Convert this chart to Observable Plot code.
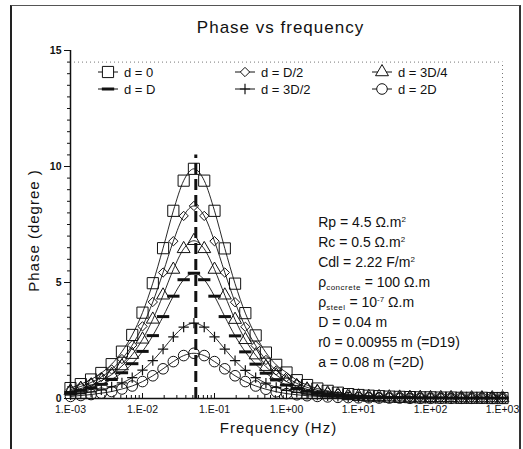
<!DOCTYPE html>
<html><head><meta charset="utf-8">
<script src="https://cdn.jsdelivr.net/npm/d3@7"></script>
<script src="https://cdn.jsdelivr.net/npm/@observablehq/plot@0.6"></script>
<style>
body{margin:0;background:#fff;}
#wrap{position:relative;width:523px;height:449px;overflow:hidden;background:#fff;}
#frame{position:absolute;left:10px;top:5px;width:511px;height:450px;border-left:2px solid #222;border-top:1px solid #555;border-right:2px solid #333;box-sizing:border-box;pointer-events:none;}
svg{display:block;}
</style></head><body><div id="wrap"><div id="frame"></div></div>
<script>
const frequency = [0.001,0.00139,0.00193,0.00268,0.00373,0.00518,0.0072,0.01,0.0139,0.0193,0.0268,0.0373,0.0518,0.072,0.1,0.139,0.193,0.268,0.373,0.518,0.72,1,1.39,1.93,2.68,3.73,5.18,7.2,10,13.9,19.3,26.8,37.3,51.8,72,100,139,193,268,373,518,720,1000];
const phaseD0 = [0.45,0.62,0.82,1.10,1.48,2.02,2.74,3.70,4.97,6.48,8.09,9.39,9.90,9.39,8.09,6.47,4.95,3.68,2.72,1.98,1.45,1.12,0.79,0.58,0.43,0.33,0.25,0.19,0.15,0.12,0.10,0.08,0.07,0.06,0.05,0.05,0.04,0.04,0.03,0.03,0.03,0.02,0.02];
const phaseDhalf = [0.38,0.52,0.69,0.93,1.25,1.70,2.30,3.11,4.16,5.43,6.78,7.87,8.30,7.87,6.78,5.43,4.15,3.09,2.28,1.66,1.21,0.92,0.65,0.48,0.36,0.27,0.21,0.16,0.12,0.10,0.08,0.07,0.06,0.05,0.05,0.04,0.04,0.03,0.03,0.03,0.02,0.02,0.02];
const phaseD3q = [0.32,0.43,0.57,0.77,1.03,1.40,1.89,2.55,3.41,4.45,5.56,6.45,6.80,6.45,5.56,4.45,3.40,2.53,1.87,1.37,1.01,0.73,0.54,0.40,0.30,0.23,0.17,0.13,0.10,0.08,0.07,0.06,0.05,0.04,0.04,0.03,0.03,0.03,0.02,0.02,0.02,0.02,0.02];
const phaseD1 = [0.26,0.35,0.46,0.61,0.82,1.11,1.50,2.03,2.71,3.53,4.41,5.12,5.40,5.12,4.41,3.53,2.70,2.01,1.48,1.09,0.80,0.58,0.43,0.32,0.24,0.18,0.14,0.11,0.08,0.07,0.06,0.05,0.04,0.04,0.03,0.03,0.03,0.02,0.02,0.02,0.02,0.02,0.02];
const phaseD3h = [0.16,0.21,0.28,0.37,0.50,0.67,0.90,1.22,1.63,2.13,2.66,3.08,3.25,3.08,2.66,2.13,1.63,1.21,0.90,0.66,0.48,0.35,0.26,0.19,0.15,0.11,0.09,0.07,0.05,0.04,0.04,0.03,0.03,0.02,0.02,0.02,0.02,0.01,0.01,0.01,0.01,0.01,0.01];
const phaseD2 = [0.09,0.13,0.17,0.23,0.30,0.41,0.54,0.73,0.98,1.28,1.59,1.85,1.95,1.85,1.59,1.28,0.98,0.73,0.54,0.40,0.29,0.21,0.16,0.12,0.09,0.07,0.05,0.04,0.03,0.03,0.02,0.02,0.02,0.01,0.01,0.01,0.01,0.01,0.01,0.01,0.01,0.01,0.01];
const seriesNames = ["d = 0","d = D/2","d = 3D/4","d = D","d = 3D/2","d = 2D"];
const seriesValues = [phaseD0, phaseDhalf, phaseD3q, phaseD1, phaseD3h, phaseD2];
const xTickValues = [0.001,0.01,0.1,1,10,100,1000];
const xTickLabels = ["1.E-03","1.E-02","1.E-01","1.E+00","1.E+01","1.E+02","1.E+03"];
const yTickValues = [0,5,10,15];
const peakFrequency = [0.055];
const peakLineTop = 10.5;
const titleText = "Phase vs frequency";
const xLabel = "Frequency (Hz)";
const yLabel = "Phase (degree )";
const annotationLines = [
  [{t:"Rp = 4.5 Ω.m"},{t:"2",sup:true}],
  [{t:"Rc = 0.5 Ω.m"},{t:"2",sup:true}],
  [{t:"Cdl = 2.22 F/m"},{t:"2",sup:true}],
  [{t:"ρ"},{t:"concrete",sub:true},{t:" = 100 Ω.m"}],
  [{t:"ρ"},{t:"steel",sub:true},{t:" = 10"},{t:"-7",sup:true},{t:" Ω.m"}],
  [{t:"D = 0.04 m"}],
  [{t:"r0 = 0.00955 m (=D19)"}],
  [{t:"a = 0.08 m (=2D)"}]
];
const annotationAnchor = {f: 2.8, phase: 7.35};

const dash = {draw(ctx, size){const w = Math.sqrt(size)*0.58; ctx.moveTo(-w,0); ctx.lineTo(w,0);}};
const styles = [
  {symbol:"square", r:6.3, sw:1, d3t:d3.symbolSquare},
  {symbol:"diamond2", r:4.2, sw:1, d3t:d3.symbolDiamond2},
  {symbol:"triangle", r:4.8, sw:1, d3t:d3.symbolTriangle},
  {symbol:dash, r:6, sw:3, d3t:dash},
  {symbol:"plus", r:3.4, sw:1.2, d3t:d3.symbolPlus},
  {symbol:"circle", r:5.3, sw:1, d3t:d3.symbolCircle}
];

const rows = seriesNames.map((name, s) => frequency.map((f, i) => ({f, v: seriesValues[s][i], s: name})));
const xMinor = [];
for (let e = -3; e < 3; e++) for (let k = 2; k <= 9; k++) xMinor.push(k * Math.pow(10, e));
const yMinor = d3.range(0, 15.01, 0.5).filter(v => v % 5 !== 0);

const font = "'Liberation Sans', Arial, Helvetica, sans-serif";
const marks = [
  Plot.ruleY([14.5], {stroke:"#777", strokeDasharray:"1,3"}),
  Plot.ruleX([1000], {y1:0, y2:14.5, stroke:"#777", strokeDasharray:"1,3"}),
  Plot.ruleX([0.001], {y1:0, y2:15, stroke:"#111", strokeWidth:1.5}),
  Plot.ruleY([0], {stroke:"#111", strokeWidth:1.5}),
  Plot.axisX({ticks:xTickValues, tickFormat:d => xTickLabels[xTickValues.indexOf(d)], tickSize:0, tickPadding:7, fontSize:10.5, label:null}),
  Plot.axisX({ticks:xTickValues, tickSize:-5, tickFormat:()=>"", label:null}),
  Plot.axisX({ticks:xMinor, tickSize:-3, tickFormat:()=>"", label:null}),
  Plot.axisY({ticks:yTickValues, tickSize:6, tickPadding:3, fontSize:10.5, fontWeight:"bold", label:null}),
  Plot.axisY({ticks:yMinor, tickSize:3, tickFormat:()=>"", label:null}),
  Plot.ruleX(peakFrequency, {y1:0, y2:peakLineTop, stroke:"#111", strokeWidth:3, strokeDasharray:"11,5"}),
];
rows.forEach((data, s) => {
  marks.push(Plot.line(data, {x:"f", y:"v", stroke:"#111", strokeWidth:0.9, curve:"monotone-x"}));
  marks.push(Plot.dot(data, {x:"f", y:"v", symbol:styles[s].symbol, r:styles[s].r, stroke:"#111", strokeWidth:styles[s].sw, fill:"none"}));
});
marks.push(Plot.text([titleText], {frameAnchor:"top", lineAnchor:"middle", textAnchor:"middle", dy:-23, dx:-6, fontSize:17, fill:"#111", fontFamily:font}));
marks.push(Plot.text([xLabel], {frameAnchor:"bottom", lineAnchor:"middle", textAnchor:"middle", dy:30, dx:-8, fontSize:15, fill:"#111", fontFamily:font}));
marks.push(Plot.text([yLabel], {frameAnchor:"left", lineAnchor:"middle", textAnchor:"middle", rotate:-90, dx:-36, dy:6, fontSize:15, fill:"#111", fontFamily:font}));

const plot = Plot.plot({
  width:523, height:449,
  marginLeft:70, marginRight:21, marginTop:50, marginBottom:51,
  style:{fontFamily:font, color:"#111", background:"transparent", overflow:"visible"},
  x:{type:"log", domain:[0.001,1000]},
  y:{domain:[0,15]},
  marks
});
document.getElementById("wrap").prepend(plot);

const svg = d3.select(plot);
const xs = plot.scale("x"), ys = plot.scale("y");
svg.selectAll("text").filter(function(){return [titleText,xLabel,yLabel].includes(this.textContent);}).attr("letter-spacing","1");

// legend
const legendColumnX = [108, 245, 382];
const legendRowY = [72, 89];
const lg = svg.append("g").attr("fill","none").attr("stroke","#111");
seriesNames.forEach((name, s) => {
  const cx = legendColumnX[s % 3], cy = legendRowY[Math.floor(s / 3)];
  lg.append("line").attr("x1", cx - 10).attr("x2", cx + 10).attr("y1", cy).attr("y2", cy).attr("stroke-width", 1);
  lg.append("path").attr("transform", `translate(${cx},${cy})`)
    .attr("d", d3.symbol(styles[s].d3t, Math.PI * styles[s].r * styles[s].r)())
    .attr("stroke-width", styles[s].sw).attr("fill", "white");
  svg.append("text").attr("x", cx + 16).attr("y", cy + 4.5).attr("font-size", 13).attr("font-family", font)
    .attr("text-anchor", "start").attr("fill", "#111").text(name);
});

// annotation
const ax = xs.apply(annotationAnchor.f), ay = ys.apply(annotationAnchor.phase);
annotationLines.forEach((parts, li) => {
  const t = svg.append("text").attr("x", ax).attr("y", ay + li * 20).attr("font-size", 14)
    .attr("text-anchor", "start").attr("font-family", font).attr("fill", "#111");
  let shift = 0;
  parts.forEach(p => {
    if (p.sup) { t.append("tspan").attr("dy", -5 - shift).attr("font-size", 8).text(p.t); shift = -5; }
    else if (p.sub) { t.append("tspan").attr("dy", 3 - shift).attr("font-size", 8).attr("letter-spacing", "0.5").text(p.t); shift = 3; }
    else { t.append("tspan").attr("dy", -shift).text(p.t); shift = 0; }
  });
});
</script></body></html>
